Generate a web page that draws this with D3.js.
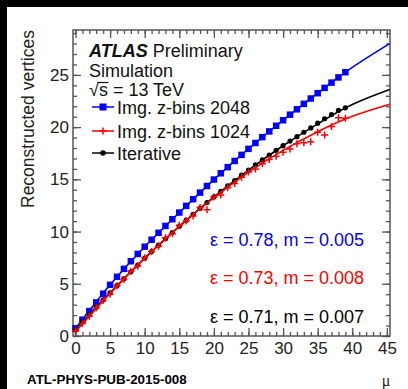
<!DOCTYPE html>
<html>
<head>
<meta charset="utf-8">
<script src="https://cdn.jsdelivr.net/npm/d3@7"></script>
<style>
  html, body { margin: 0; padding: 0; background: #fff; }
  svg { display: block; font-family: "Liberation Sans", Arial, sans-serif; }
</style>
</head>
<body>
<svg id="chart" width="408" height="389"></svg>
<script>
// mu values of the points
const mu = d3.range(0, 40);

// Img. z-bins 2048 (blue squares)
const zbins2048 = [0.73, 1.56, 2.39, 3.22, 4.05, 4.90, 5.67, 6.43, 7.16, 7.86,
  8.55, 9.22, 9.88, 10.54, 11.18, 11.82, 12.46, 13.10, 13.73, 14.36,
  14.98, 15.58, 16.17, 16.76, 17.34, 17.92, 18.48, 19.04, 19.59, 20.13,
  20.66, 21.19, 21.71, 22.23, 22.74, 23.25, 23.76, 24.26, 24.76, 25.26];

// Img. z-bins 1024 (red crosses)
const zbins1024 = [0.5, 1.2, 1.9, 2.7, 3.4, 4.0, 4.8, 5.4, 6.2, 6.7,
  7.5, 8.1, 8.6, 9.4, 9.8, 10.6, 11.0, 11.5, 12.3, 12.1,
  13.3, 13.5, 14.2, 14.6, 15.2, 15.7, 16.0, 16.5, 16.9, 17.2,
  17.6, 17.9, 18.4, 18.5, 18.6, 19.5, 19.25, 20.05, 20.9, 20.85];

// Iterative (black dots)
const iterative = [0.60, 1.33, 2.05, 2.76, 3.46, 4.14, 4.82, 5.49, 6.15, 6.80,
  7.45, 8.08, 8.70, 9.31, 9.91, 10.50, 11.09, 11.66, 12.22, 12.78,
  13.32, 13.85, 14.38, 14.89, 15.40, 15.89, 16.38, 16.86, 17.32, 17.78,
  18.22, 18.66, 19.09, 19.51, 19.92, 20.38, 20.80, 21.20, 21.60, 21.85];

// fitted curves, read at a few mu values
const fitMu = [0, 5, 10, 15, 20, 25, 30, 35, 40, 45.4];
const fit2048 = [0.73, 4.9, 8.55, 11.82, 14.98, 17.92, 20.66, 23.25, 25.72, 28.0];
const fit1024 = [0.4, 4.08, 7.45, 10.5, 13.24, 15.66, 17.77, 19.56, 21.04, 22.2];
const fitIter = [0.6, 4.14, 7.45, 10.5, 13.32, 15.89, 18.22, 20.31, 22.16, 23.6];

const xMajor = d3.range(0, 46, 5);
const yMajor = d3.range(0, 26, 5);

const fitLabels = [
  { text: "\u03b5 = 0.78, m = 0.005", color: "#0000ff" },
  { text: "\u03b5 = 0.73, m = 0.008", color: "#ff0000" },
  { text: "\u03b5 = 0.71, m = 0.007", color: "#000000" }
];

const svg = d3.select("#chart");
const W = 408, H = 389;
const pL = 73, pR = 390, pT = 30, pB = 336;

// black strips on the left and top edges
svg.append("rect").attr("x", 0).attr("y", 0).attr("width", W).attr("height", 7).attr("fill", "#000");
svg.append("rect").attr("x", 0).attr("y", 0).attr("width", 7).attr("height", H).attr("fill", "#000");

const x = d3.scaleLinear().domain([-0.36, 45.45]).range([pL, pR]);
const y = d3.scaleLinear().domain([0, 29.3]).range([pB, pT]);

const axisColor = "#555";
function styleAxis(g) {
  g.select(".domain").remove();
  g.selectAll(".tick line").attr("stroke", axisColor).attr("stroke-width", 1.3);
  g.selectAll(".tick text").attr("fill", "#222").attr("font-size", 17)
    .attr("font-family", "Liberation Sans, Arial, sans-serif");
}

// bottom
svg.append("g").attr("transform", `translate(0,${pB})`)
  .call(d3.axisBottom(x).tickValues(d3.range(0, 46)).tickSize(-4).tickSizeOuter(0).tickFormat(""))
  .call(styleAxis);
svg.append("g").attr("transform", `translate(0,${pB})`)
  .call(d3.axisBottom(x).tickValues(xMajor).tickSize(-8).tickSizeOuter(0).tickPadding(6).tickFormat(d3.format("d")))
  .call(styleAxis);
// top
svg.append("g").attr("transform", `translate(0,${pT})`)
  .call(d3.axisTop(x).tickValues(d3.range(0, 46)).tickSize(-4).tickSizeOuter(0).tickFormat(""))
  .call(styleAxis);
svg.append("g").attr("transform", `translate(0,${pT})`)
  .call(d3.axisTop(x).tickValues(xMajor).tickSize(-8).tickSizeOuter(0).tickFormat(""))
  .call(styleAxis);
// left
svg.append("g").attr("transform", `translate(${pL},0)`)
  .call(d3.axisLeft(y).tickValues(d3.range(0, 30)).tickSize(-4).tickSizeOuter(0).tickFormat(""))
  .call(styleAxis);
svg.append("g").attr("transform", `translate(${pL},0)`)
  .call(d3.axisLeft(y).tickValues(yMajor).tickSize(-8).tickSizeOuter(0).tickPadding(4).tickFormat(d3.format("d")))
  .call(styleAxis);
// right
svg.append("g").attr("transform", `translate(${pR},0)`)
  .call(d3.axisRight(y).tickValues(d3.range(0, 30)).tickSize(-4).tickSizeOuter(0).tickFormat(""))
  .call(styleAxis);
svg.append("g").attr("transform", `translate(${pR},0)`)
  .call(d3.axisRight(y).tickValues(yMajor).tickSize(-8).tickSizeOuter(0).tickFormat(""))
  .call(styleAxis);

// frame
svg.append("rect").attr("x", pL).attr("y", pT).attr("width", pR - pL).attr("height", pB - pT)
  .attr("fill", "none").attr("stroke", axisColor).attr("stroke-width", 1.5);

// axis titles
svg.append("text").attr("transform", `translate(34,${pT}) rotate(-90)`)
  .attr("text-anchor", "end").attr("font-size", 17.5).attr("fill", "#222")
  .text("Reconstructed vertices");
svg.append("text").attr("x", 386).attr("y", 386).attr("text-anchor", "middle")
  .attr("font-size", 16).attr("font-family", "Liberation Serif, serif").attr("fill", "#222")
  .text("\u03bc");
svg.append("text").attr("x", 27).attr("y", 384).attr("font-size", 13.4).attr("font-weight", "bold")
  .attr("fill", "#000").text("ATL-PHYS-PUB-2015-008");

// fit curves
const fitLine = d3.line().x((d, i) => x(fitMu[i])).y(d => y(d)).curve(d3.curveNatural);
const plot = svg.append("g");
plot.append("path").datum(fit2048).attr("d", fitLine).attr("fill", "none").attr("stroke", "#0000ff").attr("stroke-width", 1.6);

// blue squares
const sq = 6.5;
plot.selectAll(".sq").data(zbins2048).enter().append("rect")
  .attr("x", (d, i) => x(mu[i]) - sq / 2).attr("y", d => y(d) - sq / 2)
  .attr("width", sq).attr("height", sq).attr("fill", "#0000ff");

plot.append("path").datum(fitIter).attr("d", fitLine).attr("fill", "none").attr("stroke", "#000").attr("stroke-width", 1.6);
plot.selectAll(".dot").data(iterative).enter().append("circle")
  .attr("cx", (d, i) => x(mu[i])).attr("cy", d => y(d)).attr("r", 2.6).attr("fill", "#000");

plot.append("path").datum(fit1024).attr("d", fitLine).attr("fill", "none").attr("stroke", "#ff0000").attr("stroke-width", 1.6);
const cr = 3.5;
plot.selectAll(".cross").data(zbins1024).enter().append("path")
  .attr("d", (d, i) => {
    const cx = x(mu[i]), cy = y(d);
    return `M${cx - cr},${cy}H${cx + cr}M${cx},${cy - cr}V${cy + cr}`;
  })
  .attr("stroke", "#ff0000").attr("stroke-width", 1.5).attr("fill", "none");

// header text
const header = svg.append("text").attr("x", 89).attr("y", 57).attr("font-size", 18).attr("fill", "#111");
header.append("tspan").attr("font-weight", "bold").attr("font-style", "italic").text("ATLAS");
header.append("tspan").text(" Preliminary");
svg.append("text").attr("x", 89).attr("y", 77).attr("font-size", 18).attr("fill", "#111").text("Simulation");
const energy = svg.append("text").attr("x", 89).attr("y", 96).attr("font-size", 18).attr("fill", "#111");
const root = energy.append("tspan").text("\u221a");
const sVar = energy.append("tspan").text("s");
energy.append("tspan").text(" = 13 TeV");
// bar of the square root over the s
const rootW = root.node().getComputedTextLength();
const sW = sVar.node().getComputedTextLength();
svg.append("line").attr("x1", 89 + rootW - 1.5).attr("x2", 89 + rootW + sW + 0.5)
  .attr("y1", 82.5).attr("y2", 82.5).attr("stroke", "#111").attr("stroke-width", 1.2);

// legend
const legend = [
  { label: "Img. z-bins 2048", color: "#0000ff", kind: "square", cy: 107 },
  { label: "Img. z-bins 1024", color: "#ff0000", kind: "cross", cy: 131 },
  { label: "Iterative", color: "#000000", kind: "dot", cy: 153 }
];
legend.forEach(l => {
  svg.append("line").attr("x1", 92).attr("x2", 114).attr("y1", l.cy).attr("y2", l.cy)
    .attr("stroke", l.color).attr("stroke-width", 1.5);
  if (l.kind === "square") {
    svg.append("rect").attr("x", 103 - 3.5).attr("y", l.cy - 3.5).attr("width", 7).attr("height", 7).attr("fill", l.color);
  } else if (l.kind === "dot") {
    svg.append("circle").attr("cx", 103).attr("cy", l.cy).attr("r", 2.8).attr("fill", l.color);
  } else {
    svg.append("path").attr("d", `M${103 - cr},${l.cy}H${103 + cr}M103,${l.cy - cr}V${l.cy + cr}`)
      .attr("stroke", l.color).attr("stroke-width", 1.5);
  }
  svg.append("text").attr("x", 117).attr("y", l.cy + 6.5).attr("font-size", 18).attr("fill", "#111").text(l.label);
});

// fit parameter labels
fitLabels.forEach((f, i) => {
  svg.append("text").attr("x", 210).attr("y", 245.5 + i * 38.5).attr("font-size", 18)
    .attr("fill", f.color).text(f.text);
});
</script>
</body>
</html>
